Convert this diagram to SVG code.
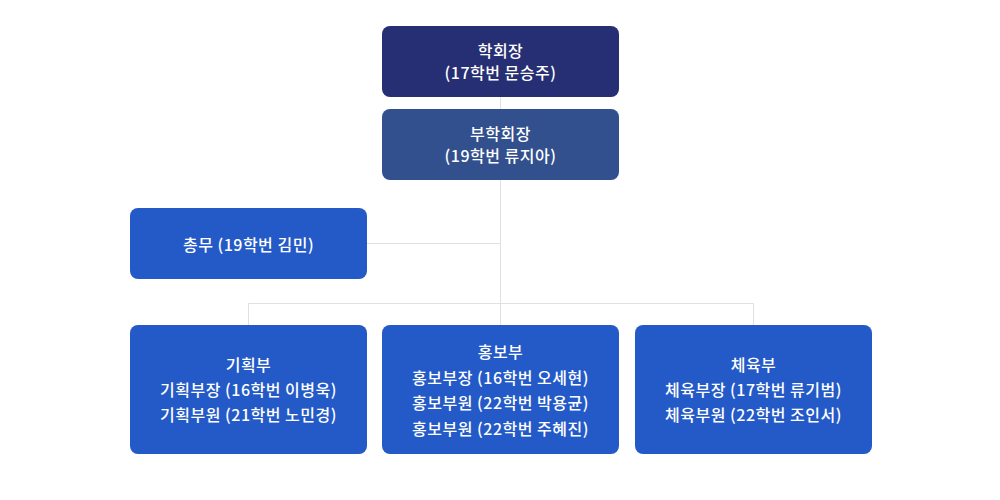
<svg xmlns="http://www.w3.org/2000/svg" width="1000" height="500" viewBox="0 0 1000 500">
<style>
.t{font-family:"Noto Sans CJK KR","Noto Sans",sans-serif;font-size:16px;letter-spacing:0.5px;font-weight:500;fill:#fff;text-anchor:middle;dominant-baseline:central}
.c{stroke:#e0e0e0;stroke-width:1;fill:none}
.b{fill:#245ac7}
</style>
<rect width="1000" height="500" fill="#fff"/>
<g id="connectors">
<path class="c" d="M500.5 97V325M367 243.5H500.5M248.5 325V303.5H753.5V325"/>
</g>
<g id="president">
<rect x="382" y="26" width="237" height="71" rx="8" fill="#262e74"/>
<text class="t" x="500.5" y="50">학회장</text>
<text class="t" x="500.5" y="72">(17학번 문승주)</text>
</g>
<g id="vice">
<rect x="382" y="109" width="237" height="71" rx="8" fill="#324f8e"/>
<text class="t" x="500.5" y="133">부학회장</text>
<text class="t" x="500.5" y="155">(19학번 류지아)</text>
</g>
<g id="general">
<rect class="b" x="130" y="208" width="237" height="71" rx="8"/>
<text class="t" x="248.5" y="243.5">총무 (19학번 김민)</text>
</g>
<g id="planning">
<rect class="b" x="130" y="325" width="237" height="129" rx="8"/>
<text class="t" x="248.5" y="364">기획부</text>
<text class="t" x="248.5" y="389">기획부장 (16학번 이병욱)</text>
<text class="t" x="248.5" y="414">기획부원 (21학번 노민경)</text>
</g>
<g id="pr">
<rect class="b" x="382" y="325" width="237" height="129" rx="8"/>
<text class="t" x="500.5" y="351">홍보부</text>
<text class="t" x="500.5" y="377">홍보부장 (16학번 오세현)</text>
<text class="t" x="500.5" y="402">홍보부원 (22학번 박용균)</text>
<text class="t" x="500.5" y="428">홍보부원 (22학번 주혜진)</text>
</g>
<g id="sports">
<rect class="b" x="635" y="325" width="237" height="129" rx="8"/>
<text class="t" x="753.5" y="364">체육부</text>
<text class="t" x="753.5" y="389">체육부장 (17학번 류기범)</text>
<text class="t" x="753.5" y="414">체육부원 (22학번 조인서)</text>
</g>
</svg>
